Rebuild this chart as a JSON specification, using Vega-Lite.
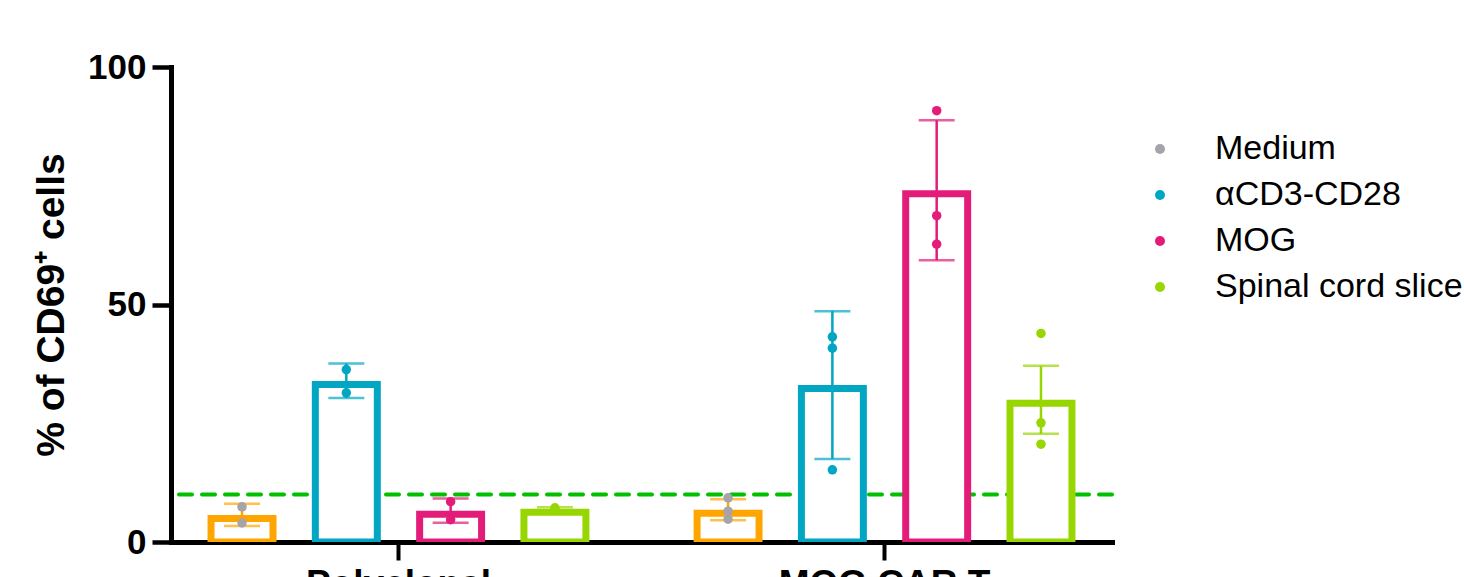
{
  "$schema": "https://vega.github.io/schema/vega-lite/v6.json",
  "width": 941,
  "height": 475,
  "autosize": {"type": "none"},
  "padding": {"left": 171, "top": 67, "right": 352, "bottom": 35},
  "background": "white",
  "config": {
    "view": {"stroke": null},
    "font": "Liberation Sans",
    "axis": {"grid": false, "domainColor": "black", "tickColor": "black", "labelColor": "black", "titleColor": "black", "domainCap": "square"},
    "axisX": {"domainWidth": 5, "tickWidth": 4, "tickSize": 18, "labelFontSize": 37, "labelFontWeight": "bold", "labelPadding": 6, "labelAngle": 0, "labelLimit": 400},
    "axisY": {"domainWidth": 5, "tickWidth": 4.5, "tickSize": 19, "labelFontSize": 35, "labelFontWeight": "bold", "labelPadding": 6, "titleFontSize": 39, "titleFontWeight": "bold", "titlePadding": 16}
  },
  "datasets": {
    "summary": [
      {"group": "Polyclonal", "condition": "Medium", "mean": 5.7, "lo": 3.35, "hi": 8.05},
      {"group": "Polyclonal", "condition": "αCD3-CD28", "mean": 33.9, "lo": 30.3, "hi": 37.6},
      {"group": "Polyclonal", "condition": "MOG", "mean": 6.6, "lo": 4.05, "hi": 9.15},
      {"group": "Polyclonal", "condition": "Spinal cord slice", "mean": 7.0, "lo": 6.7, "hi": 7.3},
      {"group": "MOG CAR T", "condition": "Medium", "mean": 6.8, "lo": 4.6, "hi": 9.0},
      {"group": "MOG CAR T", "condition": "αCD3-CD28", "mean": 33.05, "lo": 17.5, "hi": 48.6},
      {"group": "MOG CAR T", "condition": "MOG", "mean": 74.05, "lo": 59.3, "hi": 88.8},
      {"group": "MOG CAR T", "condition": "Spinal cord slice", "mean": 29.95, "lo": 22.8, "hi": 37.1}
    ],
    "replicates": [
      {"group": "Polyclonal", "condition": "Medium", "value": 7.4},
      {"group": "Polyclonal", "condition": "Medium", "value": 4.0},
      {"group": "Polyclonal", "condition": "αCD3-CD28", "value": 36.3},
      {"group": "Polyclonal", "condition": "αCD3-CD28", "value": 31.4},
      {"group": "Polyclonal", "condition": "MOG", "value": 8.5},
      {"group": "Polyclonal", "condition": "MOG", "value": 4.7},
      {"group": "Polyclonal", "condition": "Spinal cord slice", "value": 7.2},
      {"group": "Polyclonal", "condition": "Spinal cord slice", "value": 6.8},
      {"group": "MOG CAR T", "condition": "Medium", "value": 9.3},
      {"group": "MOG CAR T", "condition": "Medium", "value": 6.5},
      {"group": "MOG CAR T", "condition": "Medium", "value": 4.8},
      {"group": "MOG CAR T", "condition": "αCD3-CD28", "value": 43.2},
      {"group": "MOG CAR T", "condition": "αCD3-CD28", "value": 40.8},
      {"group": "MOG CAR T", "condition": "αCD3-CD28", "value": 15.2},
      {"group": "MOG CAR T", "condition": "MOG", "value": 90.8},
      {"group": "MOG CAR T", "condition": "MOG", "value": 68.7},
      {"group": "MOG CAR T", "condition": "MOG", "value": 62.7},
      {"group": "MOG CAR T", "condition": "Spinal cord slice", "value": 43.9},
      {"group": "MOG CAR T", "condition": "Spinal cord slice", "value": 25.1},
      {"group": "MOG CAR T", "condition": "Spinal cord slice", "value": 20.6}
    ],
    "threshold": [{"level": 10}]
  },
  "layer": [
    {
      "data": {"name": "threshold"},
      "mark": {"type": "rule", "color": "#00C000", "strokeWidth": 4, "strokeDash": [13, 10], "strokeCap": "round"},
      "encoding": {
        "y": {"field": "level", "type": "quantitative", "scale": {"domain": [0, 100], "nice": false}, "title": "% of CD69⁺ cells"}
      }
    },
    {
      "data": {"name": "summary"},
      "mark": {"type": "bar", "fill": "white", "strokeWidth": 7, "yOffset": 3.5, "clip": true},
      "encoding": {
        "x": {"field": "group", "type": "nominal", "sort": ["Polyclonal", "MOG CAR T"], "scale": {"paddingInner": 0.1, "paddingOuter": 0.018}, "title": null},
        "xOffset": {"field": "condition", "type": "nominal", "sort": ["Medium", "αCD3-CD28", "MOG", "Spinal cord slice"], "scale": {"paddingInner": 0.406, "paddingOuter": 0.3}},
        "y": {"field": "mean", "type": "quantitative", "scale": {"domain": [0, 100], "nice": false}, "axis": {"values": [0, 50, 100]}, "title": "% of CD69⁺ cells"},
        "y2": {"datum": 0},
        "stroke": {"field": "condition", "type": "nominal", "sort": ["Medium", "αCD3-CD28", "MOG", "Spinal cord slice"], "scale": {"range": ["#FFA500", "#00A6C2", "#E31B79", "#97D600"]}, "legend": null}
      }
    },
    {
      "data": {"name": "summary"},
      "mark": {"type": "rule", "strokeWidth": 2.5},
      "encoding": {
        "x": {"field": "group", "type": "nominal", "sort": ["Polyclonal", "MOG CAR T"], "title": null},
        "xOffset": {"field": "condition", "type": "nominal", "sort": ["Medium", "αCD3-CD28", "MOG", "Spinal cord slice"]},
        "y": {"field": "lo", "type": "quantitative", "title": "% of CD69⁺ cells"},
        "y2": {"field": "hi"},
        "stroke": {"field": "condition", "type": "nominal", "sort": ["Medium", "αCD3-CD28", "MOG", "Spinal cord slice"], "legend": null}
      }
    },
    {
      "data": {"name": "summary"},
      "mark": {"type": "tick", "size": 36, "thickness": 2.5},
      "encoding": {
        "x": {"field": "group", "type": "nominal", "sort": ["Polyclonal", "MOG CAR T"], "title": null},
        "xOffset": {"field": "condition", "type": "nominal", "sort": ["Medium", "αCD3-CD28", "MOG", "Spinal cord slice"]},
        "y": {"field": "lo", "type": "quantitative", "title": "% of CD69⁺ cells"},
        "fill": {"field": "condition", "type": "nominal", "sort": ["Medium", "αCD3-CD28", "MOG", "Spinal cord slice"], "scale": {"range": ["#FFA500", "#00A6C2", "#E31B79", "#97D600"]}, "legend": null}
      }
    },
    {
      "data": {"name": "summary"},
      "mark": {"type": "tick", "size": 36, "thickness": 2.5},
      "encoding": {
        "x": {"field": "group", "type": "nominal", "sort": ["Polyclonal", "MOG CAR T"], "title": null},
        "xOffset": {"field": "condition", "type": "nominal", "sort": ["Medium", "αCD3-CD28", "MOG", "Spinal cord slice"]},
        "y": {"field": "hi", "type": "quantitative", "title": "% of CD69⁺ cells"},
        "fill": {"field": "condition", "type": "nominal", "sort": ["Medium", "αCD3-CD28", "MOG", "Spinal cord slice"], "legend": null}
      }
    },
    {
      "data": {"name": "replicates"},
      "mark": {"type": "circle", "size": 90, "opacity": 1},
      "encoding": {
        "x": {"field": "group", "type": "nominal", "sort": ["Polyclonal", "MOG CAR T"], "title": null},
        "xOffset": {"field": "condition", "type": "nominal", "sort": ["Medium", "αCD3-CD28", "MOG", "Spinal cord slice"]},
        "y": {"field": "value", "type": "quantitative", "title": "% of CD69⁺ cells"},
        "color": {
          "field": "condition", "type": "nominal",
          "scale": {"domain": ["Medium", "αCD3-CD28", "MOG", "Spinal cord slice"], "range": ["#A4A4AA", "#00A6C2", "#E31B79", "#97D600"]},
          "legend": {"title": null, "orient": "none", "legendX": 972, "legendY": 65, "padding": 0, "symbolType": "circle", "symbolSize": 100, "symbolStrokeWidth": 0, "symbolOpacity": 1, "labelFontSize": 34, "labelFont": "Liberation Sans", "labelColor": "black", "labelOffset": 38, "rowPadding": 12, "labelLimit": 400}
        }
      }
    }
  ]
}
